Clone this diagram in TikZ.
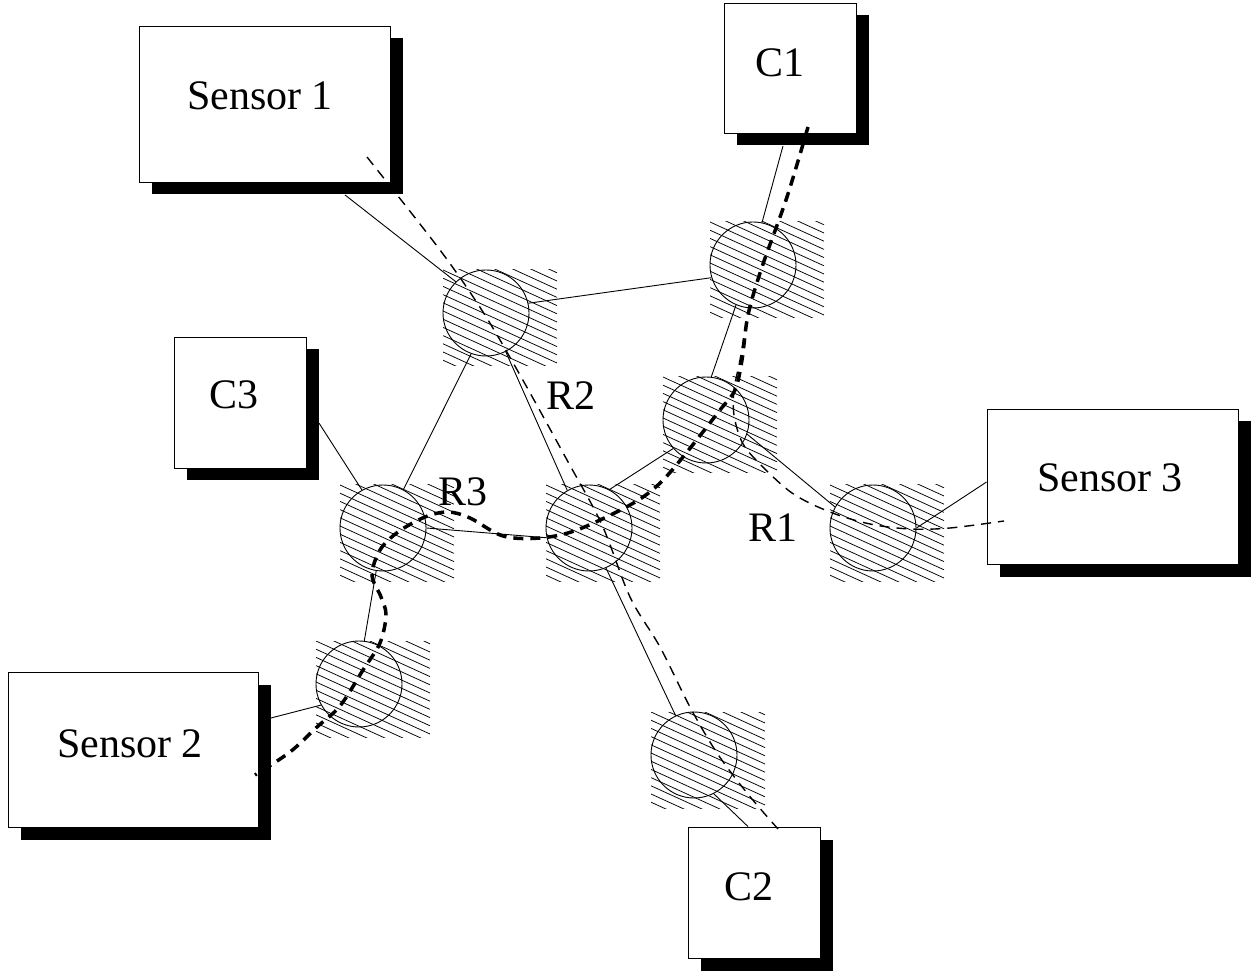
\documentclass[tikz,border=0pt]{standalone}
\usepackage{fontspec}
\setmainfont{Liberation Serif}
\usetikzlibrary{shadows,calc}

% hatched square behind a site circle
\newcommand\hatchsite[2]{%
  \begin{scope}
    \clip (#1-43,#2-43) rectangle (#1+71,#2+53);
    \foreach \k in {-9,...,13}
      \draw[hatch] (#1-43,#2-43+8.2*\k) -- ++(114,52);
  \end{scope}}

\begin{document}
\begin{tikzpicture}[x=1pt,y=-1pt,
  box/.style={rectangle, draw, fill=white, line width=0.9pt, inner sep=0pt,
    drop shadow={shadow xshift=12.5pt, shadow yshift=-12.5pt, fill=black, opacity=1}},
  site/.style={circle, draw, line width=0.9pt, minimum size=86pt, inner sep=0pt},
  link/.style={line width=0.9pt},
  hatch/.style={line width=0.75pt},
  route/.style={line width=1.4pt, dash pattern=on 10pt off 7pt},
  mainroute/.style={line width=3.5pt, dash pattern=on 10pt off 7pt},
  lbl/.style={font=\fontsize{42}{48}\selectfont, inner sep=0pt, anchor=base}]

\useasboundingbox (0,0) rectangle (1251,973);

% hatched areas
\hatchsite{486}{313}
\hatchsite{753}{265}
\hatchsite{706}{420}
\hatchsite{383}{528}
\hatchsite{589}{528}
\hatchsite{873}{528}
\hatchsite{359}{684}
\hatchsite{694}{755}

% site circles
\node[site] (n1) at (486,313) {};
\node[site] (n2) at (753,265) {};
\node[site] (n3) at (706,420) {};
\node[site] (n4) at (383,528) {};
\node[site] (n5) at (589,528) {};
\node[site] (n6) at (873,528) {};
\node[site] (n7) at (359,684) {};
\node[site] (n8) at (694,755) {};

% boxes with drop shadows
\node[box, minimum width=251pt, minimum height=156pt] (s1) at (264.5,104) {};
\node[box, minimum width=132pt, minimum height=130pt] (c1) at (790,68) {};
\node[box, minimum width=132pt, minimum height=131pt] (c3) at (240,402.5) {};
\node[box, minimum width=251pt, minimum height=155pt] (s3) at (1112.5,486.5) {};
\node[box, minimum width=250pt, minimum height=155pt] (s2) at (133,749.5) {};
\node[box, minimum width=132pt, minimum height=131pt] (c2) at (754,892.5) {};

% attachment points on the boxes
\coordinate (p-s1) at ($(s1.south)+(80.5,12.5)$);
\coordinate (p-c1) at ($(c1.south)+(-7,12.5)$);
\coordinate (p-c3) at ($(c3.east)+(12.5,20.5)$);
\coordinate (p-s3) at ($(s3.west)+(0,-4.5)$);
\coordinate (p-s2) at ($(s2.east)+(12.5,-31.5)$);
\coordinate (p-c2) at ($(c2.north)+(-6,0)$);

% links
\draw[link] (p-s1) -- (n1.134);
\draw[link] (n1.13) -- (n2.197);
\draw[link] (n1.250) -- (n4.62);
\draw[link] (n1.297) -- (n5.120);
\draw[link] (n2.78) -- (p-c1);
\draw[link] (n2.247) -- (n3.83);
\draw[link] (n3.221) -- (n5.62);
\draw[link] (n3.341) -- (n6.151);
\draw[link] (n6.0) -- (p-s3);
\draw[link] (p-c3) -- (n4.119);
\draw[link] (n4.0) -- (n5.193);
\draw[link] (n4.261) -- (n7.83);
\draw[link] (n7.209) -- (p-s2);
\draw[link] (n5.293) -- (n8.115);
\draw[link] (n8.297) -- (p-c2);

% route R2: Sensor 1 -> C2
\draw[route] plot[smooth, tension=0.55] coordinates {
  (367,157) (440,250) (483,312) (520,375) (567,460) (602,525) (630,597)
  (660,647) (690,707) (717,753) (747,793) (778,829)};

% route R1: C1 -> Sensor 3
\draw[route] plot[smooth, tension=0.55] coordinates {
  (808,127) (787,197) (762,267) (748,315) (740,360) (734,390) (734,415)
  (742,442) (758,462) (792,493) (830,512) (870,524) (910,529) (950,528)
  (1004,521)};

% route R3: C1 -> Sensor 2
\draw[mainroute] plot[smooth, tension=0.55] coordinates {
  (808,127) (787,197) (762,267) (748,315) (742,360) (735,390) (720,410)
  (683,457) (658,485) (630,505) (577,530) (540,538) (503,536) (470,518)
  (448,512) (425,517) (398,532) (380,550) (372,575) (381,597) (386,615)
  (380,643) (363,670) (340,706) (317,727) (290,752) (255,775)};

% texts
\node[lbl] (t-s1) at (260,110) {Sensor 1};
\node[lbl] (t-c1) at (780,77) {C1};
\node[lbl] (t-c3) at (234,409) {C3};
\node[lbl] (t-s3) at (1110,492) {Sensor 3};
\node[lbl] (t-s2) at (130,757) {Sensor 2};
\node[lbl] (t-c2) at (749,900) {C2};
\node[lbl] (t-r2) at (571,410) {R2};
\node[lbl] (t-r3) at (463,505) {R3};
\node[lbl] (t-r1) at (773,541) {R1};
\end{tikzpicture}
\end{document}
